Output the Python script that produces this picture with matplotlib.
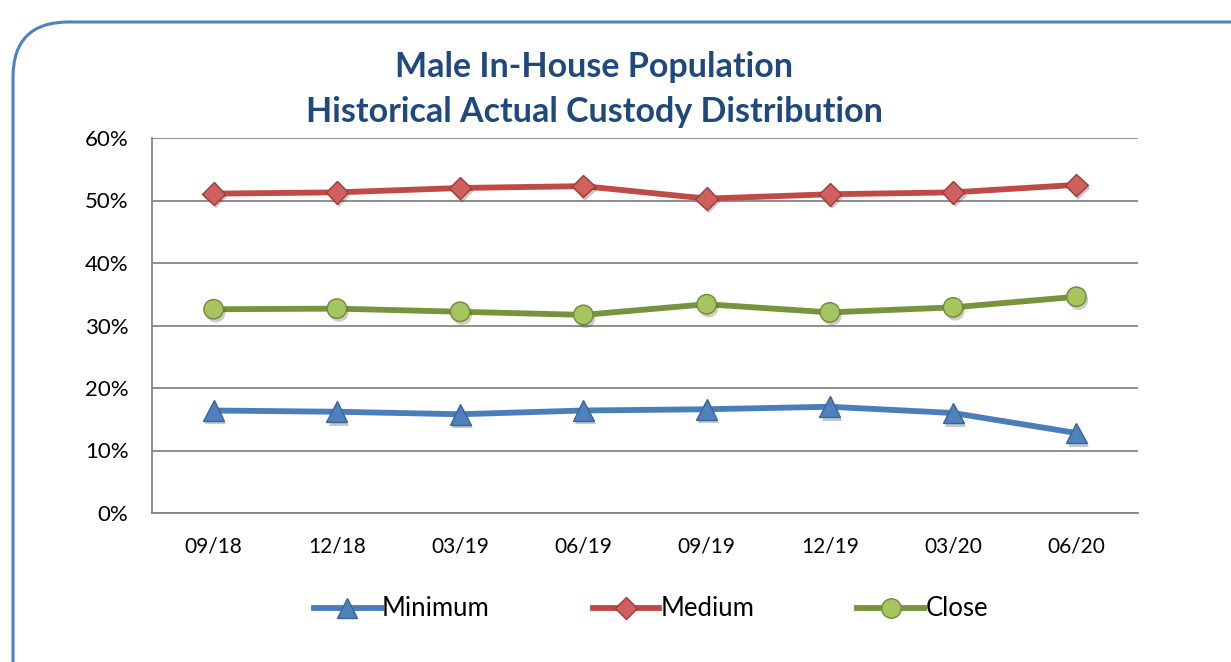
import matplotlib
matplotlib.use("Agg")
import matplotlib.pyplot as plt
from matplotlib.patches import FancyBboxPatch
from matplotlib.ticker import PercentFormatter, MultipleLocator
from matplotlib.lines import Line2D
import matplotlib.patheffects as pe

categories = ["09/18", "12/18", "03/19", "06/19", "09/19", "12/19", "03/20", "06/20"]
minimum = [16.4, 16.2, 15.8, 16.4, 16.6, 17.0, 16.0, 12.8]
medium = [51.1, 51.3, 52.0, 52.3, 50.3, 51.0, 51.3, 52.5]
close = [32.6, 32.7, 32.2, 31.7, 33.4, 32.1, 32.9, 34.6]

plt.rcParams['font.family'] = ['Lato', 'DejaVu Sans']

W, H = 1231, 662
fig = plt.figure(figsize=(W / 100, H / 100), dpi=100)

# rounded chart border
border = FancyBboxPatch((13 / W, -0.2), 1.3, (H - 22) / H + 0.2,
                        boxstyle="round,pad=0,rounding_size=0.045",
                        transform=fig.transFigure, fill=False,
                        edgecolor="#4F81BD", linewidth=2.2, mutation_aspect=W / H)
fig.patches.append(border)

ax = fig.add_axes([152 / W, 1 - 513 / H, (1138 - 152) / W, (513 - 138) / H])

x = list(range(len(categories)))
shadow = [pe.SimplePatchShadow(offset=(1.5, -2.5), alpha=0.25), pe.Normal()]

series = [
    (minimum, "Minimum", "#4A7EBB", "^", "#4F81BD", "#3A6496", 15),
    (medium, "Medium", "#BE4B48", "D", "#D0605D", "#9E3A37", 11.5),
    (close, "Close", "#77933C", "o", "#A6C560", "#6E8A36", 14),
]
for vals, label, lc, mk, mfc, mec, ms in series:
    ax.plot(x, vals, color=lc, linewidth=4.2, solid_capstyle="round", zorder=3)
    ax.plot(x, vals, linestyle="none", marker=mk, markersize=ms,
            markerfacecolor=mfc, markeredgecolor=mec, markeredgewidth=1.0,
            zorder=4, path_effects=shadow)

ax.set_xlim(-0.5, len(categories) - 0.5)
ax.set_ylim(0, 60)
ax.yaxis.set_major_locator(MultipleLocator(10))
ax.yaxis.set_major_formatter(PercentFormatter(decimals=0))
ax.set_xticks(x)
ax.set_xticklabels(categories)
ax.grid(axis="y", color="#868686", linewidth=1.3)
ax.set_axisbelow(True)
for s in ["top", "right"]:
    ax.spines[s].set_visible(False)
for s in ["left", "bottom"]:
    ax.spines[s].set_color("#868686")
    ax.spines[s].set_linewidth(1.3)
ax.tick_params(axis="both", length=0, labelsize=15, colors="black")
ax.tick_params(axis="x", pad=17)
ax.tick_params(axis="y", pad=17)
for lab in ax.get_yticklabels():
    lab.set_fontsize(16)

fig.text(594 / W, 1 - 67 / H, "Male In-House Population", ha="center", va="center",
         fontsize=24.5, fontweight="bold", color="#1F497D")
fig.text(594 / W, 1 - 112 / H, "Historical Actual Custody Distribution", ha="center", va="center",
         fontsize=24.5, fontweight="bold", color="#1F497D")

handles = []
for vals, label, lc, mk, mfc, mec, ms in series:
    handles.append(Line2D([], [], color=lc, linewidth=4.2, marker=mk, markersize=ms,
                          markerfacecolor=mfc, markeredgecolor=mec, label=label))
fig.legend(handles=handles, loc="center", bbox_to_anchor=(651 / W, 1 - 609 / H),
           ncol=3, frameon=False, fontsize=18.5, handlelength=2.6, handletextpad=0.05,
           columnspacing=4.0)

fig.savefig("out.png", dpi=100)
